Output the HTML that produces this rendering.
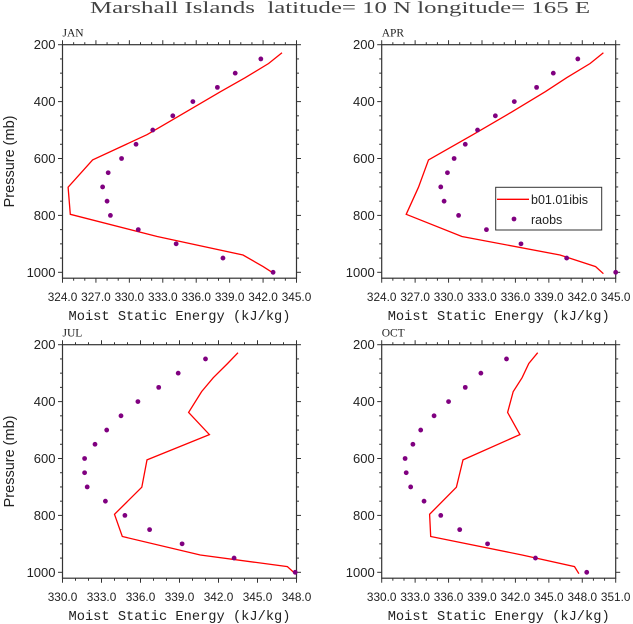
<!DOCTYPE html>
<html><head><meta charset="utf-8"><style>
html,body{margin:0;padding:0;background:#fff;}
svg{display:block;}
</style></head><body>
<svg id="chart" width="633" height="624" viewBox="0 0 633 624" xmlns="http://www.w3.org/2000/svg">
<text x="90" y="13" font-family="Liberation Serif, serif" font-size="17" fill="#444" textLength="500" lengthAdjust="spacingAndGlyphs" xml:space="preserve">Marshall Islands  latitude= 10 N longitude= 165 E</text>
</svg>
<script>
const pointLevels = [250,300,350,400,450,500,550,600,650,700,750,800,850,900,950,1000];
const modelLevels = [228,266,316,365,438,516,605,701,796,874,939,980,1005];
const janModel = [343.7,342.5,340.4,338.2,335.0,331.6,326.7,324.5,324.7,332.5,340.2,342.0,343.0];
const janObs = [341.8,339.5,337.9,335.7,333.9,332.1,330.6,329.3,328.1,327.6,328.0,328.3,330.8,334.2,338.4,342.9];
const aprModel = [343.9,342.7,340.6,338.7,335.6,332.2,328.2,327.3,326.2,331.2,340.0,343.2,343.9];
const aprObs = [341.6,339.4,337.9,335.9,334.2,332.6,331.5,330.5,329.9,329.3,329.6,330.9,333.4,336.5,340.6,345.0];
const julModel = [343.5,342.7,341.6,340.7,339.7,341.3,336.5,336.1,334.0,334.6,340.6,347.3,347.9];
const julObs = [341.0,338.9,337.4,335.8,334.5,333.4,332.5,331.7,331.7,331.9,333.3,334.8,336.7,339.2,343.2,347.9];
const octModel = [344.0,343.2,342.6,341.8,341.3,342.4,337.3,336.7,334.3,334.4,342.6,347.3,347.7];
const octObs = [341.2,338.9,337.5,336.0,334.7,333.5,332.8,332.1,332.2,332.6,333.8,335.3,337.0,339.5,343.8,348.4];
const janTicks = [324,327,330,333,336,339,342,345];
const julTicks = [330,333,336,339,342,345,348];
const octTicks = [330,333,336,339,342,345,348,351];
const pTicks = [200,400,600,800,1000];

const NS='http://www.w3.org/2000/svg';
const svg=document.getElementById('chart');
function el(tag,attrs,parent){const e=document.createElementNS(NS,tag);for(const k in attrs)e.setAttribute(k,attrs[k]);(parent||svg).appendChild(e);return e;}

const panels=[
 {name:'jan',label:'JAN',x0:62.5,y0:44.7,ticks:janTicks,model:janModel,obs:janObs,ytitle:true,legend:false},
 {name:'apr',label:'APR',x0:381.7,y0:44.7,ticks:janTicks,model:aprModel,obs:aprObs,ytitle:false,legend:true},
 {name:'jul',label:'JUL',x0:62.5,y0:344.7,ticks:julTicks,model:julModel,obs:julObs,ytitle:true,legend:false},
 {name:'oct',label:'OCT',x0:381.7,y0:344.7,ticks:octTicks,model:octModel,obs:octObs,ytitle:false,legend:false}
];
const W=234,H=233.5,PMIN=200,PMAX=1020.7;
panels.forEach(pn=>{
 const g=el('g',{});
 
 
 const xmin=pn.ticks[0],xmax=pn.ticks[pn.ticks.length-1];
 const sx=v=>pn.x0+(v-xmin)/(xmax-xmin)*W;
 const sy=p=>pn.y0+(p-PMIN)/(PMAX-PMIN)*H;
 for(let v=xmin;v<=xmax+0.001;v+=1){
  const big=((v-xmin)%3)===0;const L=big?4.5:2.5;
  el('line',{x1:sx(v),x2:sx(v),y1:pn.y0,y2:pn.y0-L,stroke:'#333','stroke-width':1},g);
  el('line',{x1:sx(v),x2:sx(v),y1:pn.y0+H,y2:pn.y0+H+L,stroke:'#333','stroke-width':1},g);
 }
 for(let p=200;p<=1000;p+=50){
  const big=(p%200)===0;const L=big?4.5:2.5;
  el('line',{x1:pn.x0,x2:pn.x0-L,y1:sy(p),y2:sy(p),stroke:'#333','stroke-width':1},g);
  el('line',{x1:pn.x0+W,x2:pn.x0+W+L,y1:sy(p),y2:sy(p),stroke:'#333','stroke-width':1},g);
 }
 const fr=el('rect',{x:pn.x0,y:pn.y0,width:W,height:H,fill:'none',stroke:'#333','stroke-width':1.2},g);
 
 
 pTicks.forEach(p=>{
  const t=el('text',{x:pn.x0-7,y:sy(p)+4.5,'text-anchor':'end','font-family':'Liberation Sans, sans-serif','font-size':13,fill:'#222'},g);
  t.textContent=p;
  
  
 });
 pn.ticks.forEach(v=>{
  const t=el('text',{x:sx(v),y:pn.y0+H+23,'text-anchor':'middle','font-family':'Liberation Sans, sans-serif','font-size':11.8,fill:'#222'},g);
  t.textContent=v.toFixed(1);
  
  
 });
 const xt=el('text',{x:pn.x0+W/2,y:pn.y0+H+42,'text-anchor':'middle','font-family':'Liberation Mono, monospace','font-size':14,fill:'#222',textLength:222,lengthAdjust:'spacingAndGlyphs'},g);
 xt.textContent='Moist Static Energy (kJ/kg)';
 
 
 if(pn.ytitle){
  const yt=el('text',{x:0,y:0,'text-anchor':'middle','font-family':'Liberation Sans, sans-serif','font-size':14.5,fill:'#222',transform:'translate(14,'+(pn.y0+H/2)+') rotate(-90)'},g);
  yt.textContent='Pressure (mb)';
  
  
 }
 const pl=el('text',{x:pn.x0,y:pn.y0-8,'font-family':'Liberation Serif, serif','font-size':11.5,fill:'#222'},g);
 pl.textContent=pn.label;
 
 
 const pts=pn.model.map((v,i)=>sx(v).toFixed(1)+','+sy(modelLevels[i]).toFixed(1)).join(' ');
 const ln=el('polyline',{points:pts,fill:'none',stroke:'#ff0000','stroke-width':1.3},g);
 
 
 pn.obs.forEach((v,i)=>{
  const c=el('circle',{cx:sx(v),cy:sy(pointLevels[i]),r:2.4,fill:'#800080'},g);
  
  
 });
 if(pn.legend){
  const lg=el('g',{},g);
  
  
  el('rect',{x:495.7,y:187.3,width:106,height:42.7,fill:'#fff',stroke:'#333','stroke-width':1},lg);
  el('line',{x1:497,x2:529,y1:199.3,y2:199.3,stroke:'#ff0000','stroke-width':1.3},lg);
  const t1=el('text',{x:531,y:204,'font-family':'Liberation Sans, sans-serif','font-size':12.5,fill:'#222'},lg);
  t1.textContent='b01.01ibis';
  
  
  el('circle',{cx:514,cy:219,r:2.4,fill:'#800080'},lg);
  const t2=el('text',{x:531,y:224,'font-family':'Liberation Sans, sans-serif','font-size':12.5,fill:'#222'},lg);
  t2.textContent='raobs';
  
  
 }
});
</script>
</body></html>
